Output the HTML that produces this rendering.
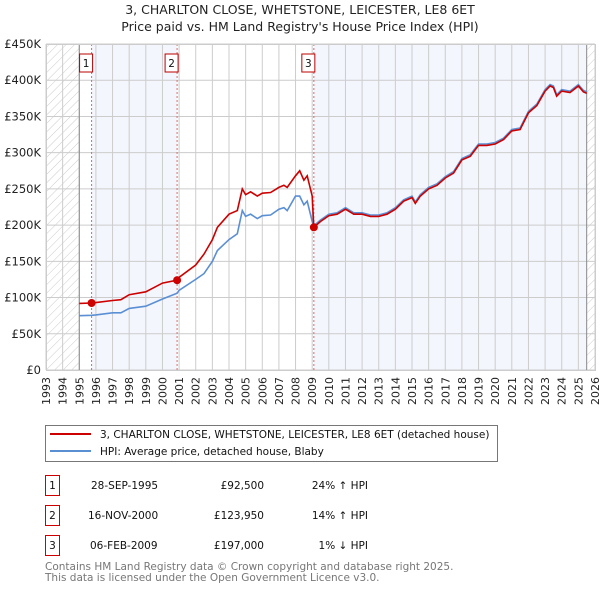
<!DOCTYPE html>
<html><head><meta charset="utf-8"><style>
body{margin:0;background:#fff;}
svg text{font-family:"DejaVu Sans","Liberation Sans",sans-serif;}
</style></head><body>
<svg id="chart" width="600" height="590" xmlns="http://www.w3.org/2000/svg">
<defs>
<pattern id="hatch" width="6" height="6" patternUnits="userSpaceOnUse" patternTransform="rotate(45)">
<line x1="0" y1="0" x2="0" y2="6" stroke="#ccc" stroke-width="1"/></pattern>
</defs>
<text x="300" y="14" text-anchor="middle" font-size="12.5" fill="#222">3, CHARLTON CLOSE, WHETSTONE, LEICESTER, LE8 6ET</text>
<text x="300" y="31" text-anchor="middle" font-size="12.5" fill="#222">Price paid vs. HM Land Registry's House Price Index (HPI)</text>
<g id="plot"></g>
<g>
<rect x="45.5" y="425.5" width="452" height="36" fill="#fff" stroke="#777"/>
<line x1="50" y1="434" x2="91" y2="434" stroke="#cc0000" stroke-width="2"/>
<text x="100" y="438" font-size="10.5" fill="#111">3, CHARLTON CLOSE, WHETSTONE, LEICESTER, LE8 6ET (detached house)</text>
<line x1="50" y1="451" x2="91" y2="451" stroke="#5b8fd4" stroke-width="2"/>
<text x="100" y="455" font-size="10.5" fill="#111">HPI: Average price, detached house, Blaby</text>
</g>
<g font-size="10.5" fill="#111">
<rect x="45.5" y="475.5" width="14" height="20" fill="none" stroke="#cc0000"/><text x="52.5" y="489" text-anchor="middle">1</text>
<text x="91" y="489">28-SEP-1995</text><text x="264" y="489" text-anchor="end">£92,500</text><text x="368" y="489" text-anchor="end">24% ↑ HPI</text>
<rect x="45.5" y="505.5" width="14" height="20" fill="none" stroke="#cc0000"/><text x="52.5" y="519" text-anchor="middle">2</text>
<text x="88" y="519">16-NOV-2000</text><text x="264" y="519" text-anchor="end">£123,950</text><text x="368" y="519" text-anchor="end">14% ↑ HPI</text>
<rect x="45.5" y="535.5" width="14" height="20" fill="none" stroke="#cc0000"/><text x="52.5" y="549" text-anchor="middle">3</text>
<text x="90" y="549">06-FEB-2009</text><text x="264" y="549" text-anchor="end">£197,000</text><text x="368" y="549" text-anchor="end">1% ↓ HPI</text>
</g>
<text x="45" y="570" font-size="10.5" fill="#777">Contains HM Land Registry data © Crown copyright and database right 2025.</text>
<text x="45" y="581" font-size="10.5" fill="#777">This data is licensed under the Open Government Licence v3.0.</text>
</svg>
<script>
const yearTicks=[1993,1994,1995,1996,1997,1998,1999,2000,2001,2002,2003,2004,2005,2006,2007,2008,2009,2010,2011,2012,2013,2014,2015,2016,2017,2018,2019,2020,2021,2022,2023,2024,2025,2026];
const valueTicks=[0,50000,100000,150000,200000,250000,300000,350000,400000,450000];
const valueTickLabels=["£0","£50K","£100K","£150K","£200K","£250K","£300K","£350K","£400K","£450K"];
const saleDates=[1995.74,2000.88,2009.1];
const salePrices=[92500,123950,197000];
const saleLabels=["1","2","3"];
const priceDates=[1995,1995.74,1996,1997,1997.5,1998,1999,2000,2000.88,2001,2002,2002.5,2003,2003.3,2004,2004.5,2004.8,2005,2005.3,2005.7,2006,2006.5,2007,2007.3,2007.5,2008,2008.25,2008.5,2008.7,2009,2009.1,2009.5,2010,2010.5,2011,2011.5,2012,2012.5,2013,2013.5,2014,2014.5,2015,2015.2,2015.5,2016,2016.5,2017,2017.5,2018,2018.5,2019,2019.5,2020,2020.5,2021,2021.5,2022,2022.5,2023,2023.3,2023.5,2023.7,2024,2024.5,2025,2025.3,2025.5];
const priceValues=[92,92.5,93,96,97,104,108,120,124,128,145,160,180,197,215,220,250,242,246,240,244,245,252,255,252,268,275,262,268,240,197,205,213,215,222,215,215,212,212,215,222,233,238,230,240,250,255,265,272,290,295,310,310,312,318,330,332,355,365,385,392,390,378,385,383,392,384,382];
const hpiValues=[75,75.5,76,79,79,85,88,98,106,110,125,133,150,165,180,188,220,212,215,209,213,214,222,224,220,240,240,228,233,205,199,207,215,217,224,217,217,214,214,217,224,235,240,232,242,252,257,267,274,292,297,312,312,314,320,332,334,357,367,387,394,392,380,387,385,394,386,384];
const X0=46,X1=595,Y0=370,Y1=44,ymax=450000;
const xs=d=>X0+(d-1993)/(2026-1993)*(X1-X0);
const ys=v=>Y0-v/ymax*(Y0-Y1);
const NS="http://www.w3.org/2000/svg";
const g=document.getElementById('plot');
function mk(t,a){const e=document.createElementNS(NS,t);for(const k in a)e.setAttribute(k,a[k]);g.appendChild(e);return e;}
let e;
e=mk('rect',{x:xs(saleDates[0]),y:Y1,width:xs(saleDates[1])-xs(saleDates[0]),height:Y0-Y1,fill:'#f3f6fd'});


e=mk('rect',{x:xs(saleDates[2]),y:Y1,width:xs(2025.5)-xs(saleDates[2]),height:Y0-Y1,fill:'#f3f6fd'});


e=mk('rect',{x:X0,y:Y1,width:xs(1995)-X0,height:Y0-Y1,fill:'url(#hatch)'});


e=mk('rect',{x:xs(2025.5),y:Y1,width:X1-xs(2025.5),height:Y0-Y1,fill:'url(#hatch)'});


yearTicks.forEach(y=>{const x=xs(y);
e=mk('line',{x1:x,x2:x,y1:Y1,y2:Y0,stroke:'#ccc','stroke-width':1});


e=mk('text',{x:0,y:0,'font-size':11,fill:'#222','text-anchor':'end',transform:`translate(${x+4},${Y0+7}) rotate(-90)`});
e.textContent=y;

});
valueTicks.forEach((v,i)=>{const y=ys(v);
e=mk('line',{x1:X0,x2:X1,y1:y,y2:y,stroke:'#ccc','stroke-width':1});


e=mk('text',{x:X0-5,y:y+4,'font-size':11.5,fill:'#222','text-anchor':'end'});
e.textContent=valueTickLabels[i];

});
e=mk('line',{x1:xs(1995),x2:xs(1995),y1:Y1,y2:Y0,stroke:'#888'});


e=mk('line',{x1:xs(2025.5),x2:xs(2025.5),y1:Y1,y2:Y0,stroke:'#888'});


saleDates.forEach((d,i)=>{const x=xs(d);
e=mk('line',{x1:x,x2:x,y1:Y1,y2:Y0,stroke:'#e06666','stroke-dasharray':'2,2','stroke-width':1});


e=mk('rect',{x:x-12,y:Y1+10,width:13,height:18,fill:'#fff',stroke:'#b00'});


e=mk('text',{x:x-5.5,y:Y1+23,'font-size':10.5,fill:'#111','text-anchor':'middle'});
e.textContent=saleLabels[i];

});
const pts=(vals)=>priceDates.map((d,i)=>xs(d).toFixed(1)+','+ys(vals[i]*1000).toFixed(1)).join(' ');
e=mk('polyline',{points:pts(hpiValues),fill:'none',stroke:'#5b8fd4','stroke-width':1.6});


e=mk('polyline',{points:pts(priceValues),fill:'none',stroke:'#cc0000','stroke-width':1.6});


saleDates.forEach((d,i)=>{
e=mk('circle',{cx:xs(d),cy:ys(salePrices[i]),r:4,fill:'#cc0000'});

});
e=mk('rect',{x:X0+0.5,y:Y1+0.5,width:X1-X0,height:Y0-Y1,fill:'none',stroke:'#ccc'});


</script>
</body></html>
